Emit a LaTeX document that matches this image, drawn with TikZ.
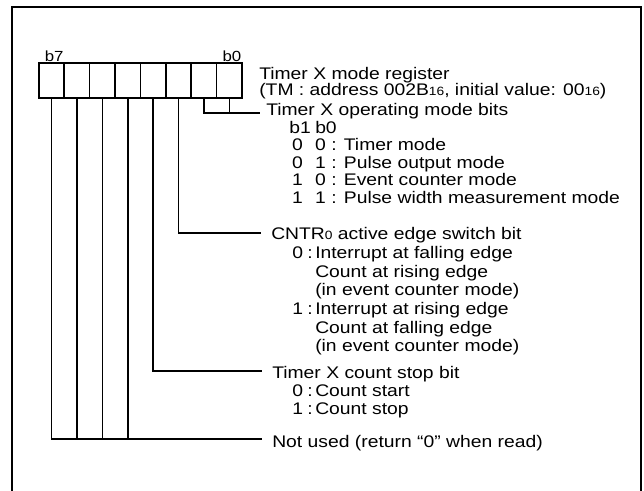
\documentclass[tikz,border=0pt]{standalone}
\usepackage{fontspec}
\setmainfont{Liberation Sans}[FakeStretch=1.15]
\usetikzlibrary{positioning}
\newcommand{\lowsub}[1]{{\fontsize{9pt}{9pt}\selectfont #1}}

\begin{document}
\begin{tikzpicture}[x=0.75pt,y=-0.75pt,
  cell/.style={draw,line width=1.2pt,minimum width=19.05pt,minimum height=26.25pt,inner sep=0pt},
  wire/.style={line width=1.2pt},
  desc/.style={anchor=base west,inner sep=0pt,font=\fontsize{12.6pt}{13.5pt}\selectfont},
  bitno/.style={inner sep=0pt,font=\fontsize{11pt}{11pt}\selectfont}]
  \useasboundingbox (0,0) rectangle (644,491);
  \draw[line width=2pt] (12,491) -- (12,7) -- (641,7) -- (641,491);

  % register cells, b0 on the right
  \foreach \i in {0,...,7}
    \node[cell] (b\i) at ({229.3-25.4*\i},80.5) {};
  \node[bitno,above=0pt of b7,xshift=2pt] (lb7) {b7};
  \node[bitno,above=0pt of b0,xshift=2pt] (lb0) {b0};

  \coordinate (opend) at (260,113);
  \coordinate (cntrend) at (261,233);
  \coordinate (stopend) at (262,371);
  \coordinate (nuend) at (262,439);

  \draw[wire] (b1.south) |- (opend);
  \draw[wire] (b0.south) -- (b0.south |- opend);
  \draw[wire] (b2.south) |- (cntrend);
  \draw[wire] (b3.south) |- (stopend);
  \draw[wire] (b7.south) |- (nuend);
  \foreach \i in {4,5,6}
    \draw[wire] (b\i.south) -- (b\i.south |- nuend);

  \node[desc] (regname) at (259,80) {\begin{tabular}[t]{@{}l@{}}
    Timer X mode register\\[-1.5pt]
    (TM : address 002B\lowsub{16}, initial value: 00\lowsub{16})
  \end{tabular}};
  \node[desc,font=\fontsize{12.6pt}{13.1pt}\selectfont] (opbits) at (266,116) {\begin{tabular}[t]{@{}p{17.25pt}@{}p{19.5pt}@{}l@{}}
    \multicolumn{3}{@{}l@{}}{Timer X operating mode bits}\\
    & b1 & b0\\
    & \,0 & 0 : Timer mode\\
    & \,0 & 1 : Pulse output mode\\
    & \,1 & 0 : Event counter mode\\
    & \,1 & 1 : Pulse width measurement mode
  \end{tabular}};
  \node[desc,font=\fontsize{12.6pt}{14pt}\selectfont] (cntr) at (271,240) {\begin{tabular}[t]{@{}p{15.75pt}@{}p{11.25pt}@{}p{6pt}@{}l@{}}
    \multicolumn{4}{@{}l@{}}{CNTR\lowsub{0} active edge switch bit}\\
    & 0 & : & Interrupt at falling edge\\
    & & & Count at rising edge\\
    & & & (in event counter mode)\\
    & 1 & : & Interrupt at rising edge\\
    & & & Count at falling edge\\
    & & & (in event counter mode)
  \end{tabular}};
  \node[desc] (countstop) at (272,379) {\begin{tabular}[t]{@{}p{15pt}@{}p{11.25pt}@{}p{6pt}@{}l@{}}
    \multicolumn{4}{@{}l@{}}{Timer X count stop bit}\\
    & 0 & : & Count start\\
    & 1 & : & Count stop
  \end{tabular}};
  \node[desc] (notused) at (272,448) {Not used (return ``0'' when read)};
\end{tikzpicture}
\end{document}
